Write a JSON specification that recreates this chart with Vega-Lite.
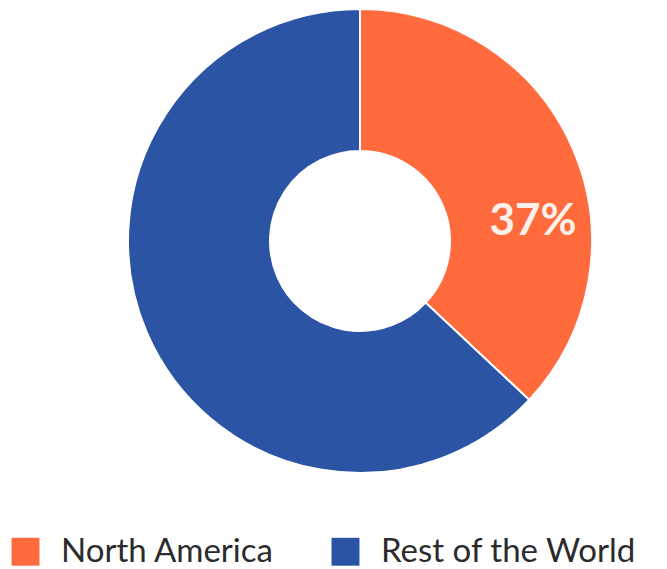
{
  "$schema": "https://vega.github.io/schema/vega-lite/v6.json",
  "width": 640,
  "height": 482,
  "autosize": {"type": "none"},
  "padding": {"left": 40, "top": 0, "right": 0, "bottom": 87},
  "background": "white",
  "config": {"view": {"stroke": null}},
  "data": {"values": [
    {"region": "North America", "share": 37, "label": "37%"},
    {"region": "Rest of the World", "share": 63, "label": ""}
  ]},
  "layer": [
    {
      "mark": {"type": "arc", "outerRadius": 232, "innerRadius": 90, "stroke": "white", "strokeWidth": 2},
      "encoding": {
        "theta": {"field": "share", "type": "quantitative", "stack": true},
        "order": {"field": "region", "type": "ordinal", "sort": "ascending"},
        "color": {
          "field": "region", "type": "nominal",
          "scale": {"domain": ["North America", "Rest of the World"], "range": ["#FF6B3D", "#2B55A4"]},
          "legend": {
            "orient": "none", "legendX": -31, "legendY": 535,
            "direction": "horizontal", "title": null,
            "symbolType": "square", "symbolSize": 780, "symbolStrokeWidth": 0,
            "labelFont": "Lato", "labelFontSize": 33, "labelColor": "#2b2b2b", "labelLimit": 400,
            "labelOffset": 19, "columnPadding": 54
          }
        }
      }
    },
    {
      "mark": {"type": "text", "radius": 174, "thetaOffset": 0.3, "font": "Lato", "fontSize": 44, "fontWeight": "bold", "fill": "#fdf1ea"},
      "encoding": {
        "theta": {"field": "share", "type": "quantitative", "stack": true},
        "order": {"field": "region", "type": "ordinal", "sort": "ascending"},
        "detail": {"field": "region", "type": "nominal"},
        "text": {"field": "label", "type": "nominal"}
      }
    }
  ]
}
